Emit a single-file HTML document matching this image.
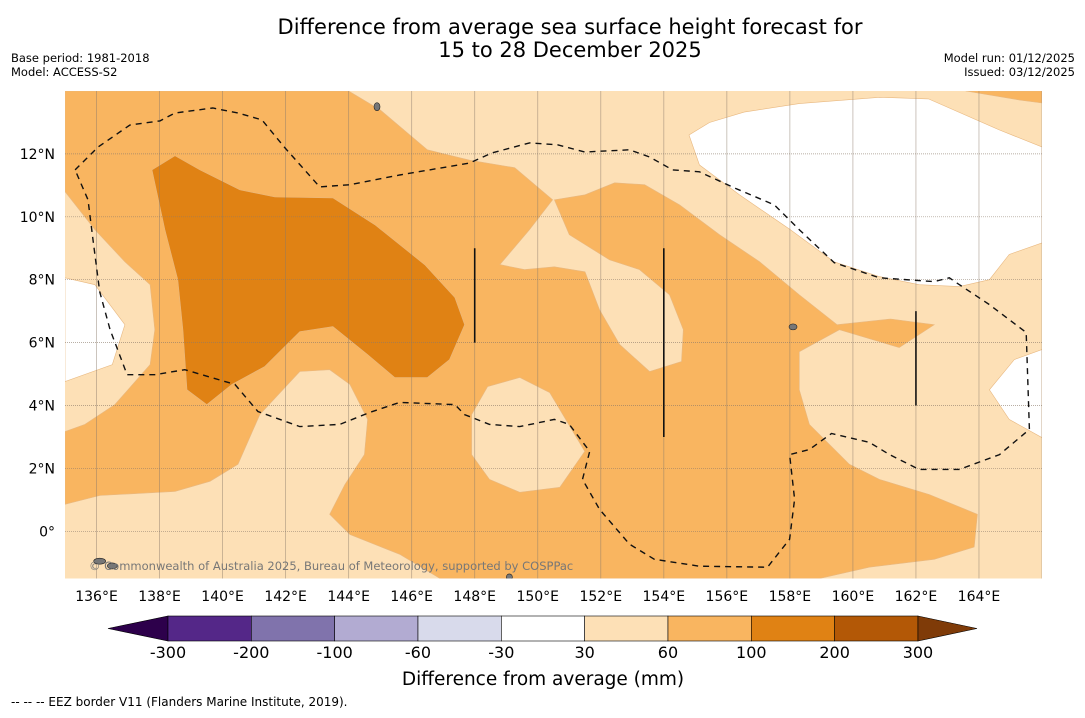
<!DOCTYPE html>
<html><head><meta charset="utf-8">
<style>
body{margin:0;background:#fff;width:1085px;height:713px;overflow:hidden;font-family:"Liberation Sans","DejaVu Sans",sans-serif;}
svg text{font-family:"DejaVu Sans","Liberation Sans",sans-serif;}
</style></head>
<body>
<svg id="chart" width="1085" height="713" viewBox="0 0 1085 713" xmlns="http://www.w3.org/2000/svg">
<text x="570" y="34" text-anchor="middle" font-size="21">Difference from average sea surface height forecast for</text>
<text x="570" y="57" text-anchor="middle" font-size="21">15 to 28 December 2025</text>
<text x="11" y="62" font-size="11.5">Base period: 1981-2018</text>
<text x="11" y="76" font-size="11.5">Model: ACCESS-S2</text>
<text x="1075" y="62" font-size="11.5" text-anchor="end">Model run: 01/12/2025</text>
<text x="1075" y="76" font-size="11.5" text-anchor="end">Issued: 03/12/2025</text>
<defs><clipPath id="mapclip"><rect x="65" y="91" width="977" height="487.5"/></clipPath></defs>
<g id="map" clip-path="url(#mapclip)"></g>
<g id="axes"></g>
<g id="cbar"></g>
<text x="543" y="685" text-anchor="middle" font-size="18.5">Difference from average (mm)</text>
<text x="11" y="706" font-size="12">--  --  -- EEZ border V11 (Flanders Marine Institute, 2019).</text>
</svg>
<script>
const lonTicks=[136,138,140,142,144,146,148,150,152,154,156,158,160,162,164];
const latTicks=[0,2,4,6,8,10,12];
const levels=[-300,-200,-100,-60,-30,30,60,100,200,300];
const levelColors=["#542788","#8073ac","#b2abd2","#d8daeb","#ffffff","#fde0b6","#f9b560","#e08214","#b35806"];
const extendColors=["#2d004b","#7f3b08"];
const whiteLeft=[[135,8.06],[135.95,7.84],[136.9,6.57],[136.5,5.3],[135,4.76]];
const whiteNE=[[154.8,12.6],[155.45,13.0],[156.55,13.33],[158.3,13.6],[160.85,13.8],[162.4,13.75],[164.65,12.76],[166,12.22],[166,9.17],[164.96,8.8],[164.33,8.0],[163.38,7.78],[162.1,7.84],[160.84,8.1],[159.4,8.57],[158,9.6],[156.4,10.7],[155.13,11.65]];
const whiteRight=[[166,5.78],[165.12,5.46],[164.33,4.5],[164.96,3.56],[166,2.98]];
const medMain=[[135,14],[144,14],[145,13.4],[146.5,12.13],[147.84,11.8],[149.27,11.56],[150.47,10.54],[149.74,9.59],[148.8,8.48],[149.58,8.32],[150.53,8.41],[151.5,8.25],[151.96,7.05],[152.6,5.94],[153.55,5.08],[154.56,5.4],[154.62,6.41],[154.18,7.52],[153.23,8.32],[152.28,8.63],[151,9.43],[150.53,10.54],[151.5,10.7],[152.44,11.08],[153.39,11.02],[154.5,10.38],[155.77,9.43],[157.04,8.57],[158.3,7.52],[159.5,6.57],[161.2,6.75],[162.58,6.57],[161.47,5.84],[159.57,6.41],[158.3,5.71],[158.3,4.5],[158.62,3.4],[159.89,2.13],[160.84,1.65],[162.42,1.17],[163.95,0.54],[163.85,-0.5],[162.58,-0.89],[160.52,-1.14],[158.94,-1.5],[146.9,-1.5],[145.62,-0.73],[144.04,-0.1],[143.4,0.54],[143.88,1.49],[144.5,2.44],[144.6,3.56],[144.04,4.67],[143.4,5.14],[142.45,5.08],[141.18,3.71],[140.49,2.13],[139.6,1.59],[138.49,1.27],[136.1,1.14],[135,0.86],[135,3.17],[135.63,3.4],[136.58,4.03],[137.7,5.3],[137.85,6.41],[137.7,7.84],[136.9,8.57],[135.95,9.59],[135,10.8]];
const lightIsland=[[148.41,4.6],[149.43,4.89],[150.38,4.41],[151.49,2.54],[150.7,1.4],[149.43,1.24],[148.47,1.65],[147.9,2.44],[147.9,3.71]];
const medTopRight=[[163.58,14],[166,14],[166,13.62],[165.3,13.71]];
const darkCore=[[137.76,11.49],[138.49,11.94],[139.28,11.49],[140.55,10.86],[141.66,10.63],[143.5,10.6],[144.83,9.75],[146.41,8.48],[147.37,7.43],[147.68,6.57],[147.2,5.46],[146.5,4.89],[145.46,4.89],[144.6,5.62],[143.5,6.51],[142.45,6.35],[141.34,5.24],[140.3,4.67],[139.5,4.03],[138.87,4.5],[138.74,6.41],[138.58,8.0],[138.17,9.59]];
const eez=[[135.32,11.49],[136.05,12.22],[137.06,12.92],[138.01,13.05],[138.49,13.3],[139.69,13.46],[140.49,13.3],[141.25,13.08],[141.98,12.19],[143.08,10.95],[144.04,11.02],[145.62,11.33],[147.84,11.71],[148.54,12.03],[149.74,12.35],[150.63,12.29],[151.49,12.06],[152.91,12.13],[153.55,11.9],[154.28,11.49],[155.13,11.43],[156.24,10.92],[157.51,10.38],[158.3,9.59],[159.41,8.54],[160.84,8.06],[162.58,7.94],[163.06,8.06],[163.38,7.84],[164.33,7.21],[165.5,6.32],[165.6,3.24],[164.65,2.44],[163.38,1.97],[162.1,1.97],[161.16,2.44],[160.52,2.83],[159.32,3.11],[158.62,2.6],[157.99,2.44],[158.15,1.02],[157.99,-0.25],[157.29,-1.14],[155.13,-1.11],[153.7,-0.89],[152.91,-0.41],[151.96,0.7],[151.42,1.65],[151.65,2.54],[151,3.4],[150.53,3.56],[149.43,3.33],[148.47,3.4],[147.68,3.71],[147.37,4.03],[145.62,4.1],[144.67,3.78],[143.72,3.4],[142.45,3.33],[141.12,3.81],[140.39,4.67],[138.8,5.14],[137.85,4.98],[136.97,4.98],[136.43,6.41],[136.1,7.62],[135.89,9.27],[135.73,10.54],[135.32,11.49]];
const vLines=[[148,9,6],[154,9,3],[162,7,4]];

const NS='http://www.w3.org/2000/svg';
const X0=65,X1=1042,Y0=91,Y1=578.5;
const lonMin=135,lonMax=166,latMin=-1.5,latMax=14;
const xs=lon=>X0+(lon-lonMin)/(lonMax-lonMin)*(X1-X0);
const ys=lat=>Y0+(latMax-lat)/(latMax-latMin)*(Y1-Y0);
function el(tag,attrs,parent){const e=document.createElementNS(NS,tag);for(const k in attrs)e.setAttribute(k,attrs[k]);parent.appendChild(e);return e;}
const map=document.getElementById('map');
const pts=a=>a.map(p=>xs(p[0]).toFixed(1)+','+ys(p[1]).toFixed(1)).join(' ');
let bg=el('rect',{x:X0,y:Y0,width:X1-X0,height:Y1-Y0,fill:levelColors[5]},map);


function poly(a,fill,name){const p=el('polygon',{points:pts(a),fill:fill,stroke:'#e8b880','stroke-width':0.6},map);

}
poly(whiteLeft,levelColors[4],'neutral-region-west');
poly(whiteNE,levelColors[4],'neutral-region-northeast');
poly(whiteRight,levelColors[4],'neutral-region-east');
poly(medMain,levelColors[6],'moderate-anomaly-region');
poly(lightIsland,levelColors[5],'light-anomaly-pocket');
poly(medTopRight,levelColors[6],'moderate-anomaly-northeast');
poly(darkCore,levelColors[7],'high-anomaly-core');
lonTicks.concat([166]).forEach(l=>{const g=el('line',{x1:xs(l),x2:xs(l),y1:Y0,y2:Y1,stroke:'#8a7a6a','stroke-width':0.8,opacity:0.55},map);

});
latTicks.forEach(l=>{const g=el('line',{x1:X0,x2:X1,y1:ys(l),y2:ys(l),stroke:'#8a7a6a','stroke-width':0.7,'stroke-dasharray':'1,1',opacity:0.8},map);

});
let ez=el('polyline',{points:pts(eez),fill:'none',stroke:'#111','stroke-width':1.4,'stroke-dasharray':'6,5'},map);


vLines.forEach(v=>{const l=el('line',{x1:xs(v[0]),x2:xs(v[0]),y1:ys(v[1]),y2:ys(v[2]),stroke:'#111','stroke-width':1.6},map);

});
[[136.1,-0.95,6,3],[136.5,-1.1,5,3],[144.9,13.5,3,4],[158.1,6.5,4,3],[149.1,-1.45,3,3]].forEach(i=>{const c=el('ellipse',{cx:xs(i[0]),cy:ys(i[1]),rx:i[2],ry:i[3],fill:'#777',stroke:'#222','stroke-width':0.6},map);

});
let wm=el('text',{x:89,y:570,'font-size':11.5,fill:'#777'},map);wm.textContent='© Commonwealth of Australia 2025, Bureau of Meteorology, supported by COSPPac';


const axes=document.getElementById('axes');
lonTicks.forEach(l=>{const t=el('text',{x:xs(l),y:601,'font-size':14,'text-anchor':'middle'},axes);t.textContent=l+'°E';

});
latTicks.forEach(l=>{const t=el('text',{x:55,y:ys(l)+5,'font-size':14,'text-anchor':'end'},axes);t.textContent=l===0?'0°':l+'°N';

});
const cb=document.getElementById('cbar');
const cbX=168,cbW=83.33,cbY=616,cbH=25;
let lt=el('polygon',{points:`108,${cbY+cbH/2} ${cbX},${cbY} ${cbX},${cbY+cbH}`,fill:extendColors[0],stroke:'#000','stroke-width':0.6},cb);


levelColors.forEach((c,i)=>{const r=el('rect',{x:cbX+i*cbW,y:cbY,width:cbW,height:cbH,fill:c,stroke:'#000','stroke-width':0.6},cb);

});
const cbEnd=cbX+levelColors.length*cbW;
let rt=el('polygon',{points:`${cbEnd},${cbY} 977,${cbY+cbH/2} ${cbEnd},${cbY+cbH}`,fill:extendColors[1],stroke:'#000','stroke-width':0.6},cb);


levels.forEach((v,i)=>{const t=el('text',{x:cbX+i*cbW,y:658,'font-size':16,'text-anchor':'middle'},cb);t.textContent=v;

});
</script>
</body></html>
